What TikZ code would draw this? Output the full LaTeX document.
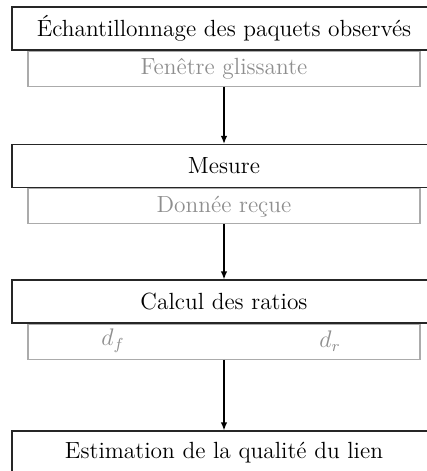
\documentclass[tikz,border=0pt]{standalone}
\usepackage{xcolor}
\usetikzlibrary{arrows.meta, positioning}
\definecolor{subLine}{HTML}{ABABAB}
\definecolor{subText}{HTML}{8E8E8E}
\tikzset{
    box_main/.style={
        rectangle, draw=black!85, line width=0.6pt,
        minimum width=212pt, minimum height=21.5pt, inner sep=0pt,
        align=center, font=\fontsize{11.7}{13}\selectfont
    },
    box_sub/.style={
        rectangle, draw=subLine, line width=0.6pt,
        minimum width=196pt, minimum height=17.5pt, inner sep=0pt,
        align=center, text=subText, font=\fontsize{11.7}{13}\selectfont
    },
    sub_lbl/.style={
        text=subText, inner sep=0pt, font=\fontsize{11.7}{13}\selectfont
    },
    flow_arrow/.style={
        -{Latex[length=4pt, width=3.2pt]}, draw=black, line width=0.6pt
    }
}
\begin{document}
\begin{tikzpicture}[x=0.5pt, y=-0.5pt]
    \clip (0, 0) rectangle (427, 471);

    \node[box_main] (sampling) at (224, 28.5) {Échantillonnage des paquets observés};
    \node[box_sub, below=0pt of sampling] (window) {Fenêtre glissante};

    \node[box_main] (measure) at (224, 166) {Mesure};
    \node[box_sub, below=0pt of measure] (received) {Donnée reçue};

    \node[box_main] (ratios) at (224, 301.5) {Calcul des ratios};
    \node[box_sub, below=0pt of ratios] (ratio_vals) {};
    \node[sub_lbl] (d_forward) at (113, 341) {$d_f$};
    \node[sub_lbl] (d_reverse) at (330, 341) {$d_r$};

    \node[box_main] (quality) at (224, 452.5) {Estimation de la qualité du lien};

    \draw[flow_arrow] (window) -- (measure);
    \draw[flow_arrow] (received) -- (ratios);
    \draw[flow_arrow] (ratio_vals) -- (quality);
\end{tikzpicture}
\end{document}
